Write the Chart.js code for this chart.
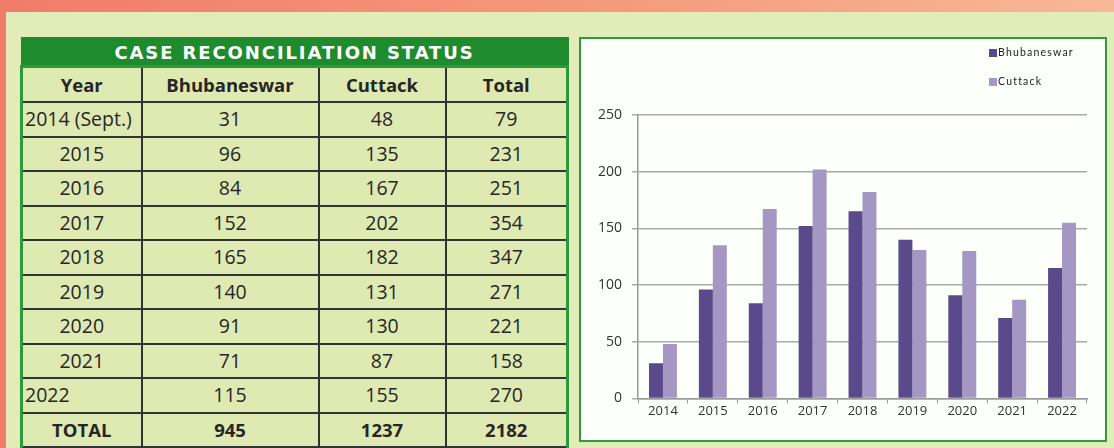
<!DOCTYPE html>
<html>
<head>
<meta charset="utf-8">
<script src="https://cdn.jsdelivr.net/npm/chart.js@4.4.1/dist/chart.umd.min.js"></script>
<style>
  html, body { margin: 0; padding: 0; }
  body {
    width: 1114px; height: 448px; overflow: hidden; position: relative;
    background: linear-gradient(90deg, #f07c6a 0%, #f49a7c 55%, #f7b898 100%);
    font-family: "Open Sans", sans-serif;
  }
  #panel {
    position: absolute; left: 6px; top: 12px; right: 0; bottom: 0;
    background: #e2ecb9;
  }
  #tbl {
    position: absolute; left: 20px; top: 37px; width: 546px;
    border-collapse: collapse; table-layout: fixed;
    background: #dfe9b2; color: #262626;
  }
  #tbl th.title {
    background: #1e8c2e; color: #fff; height: 26px; padding: 0;
    font-family: "DejaVu Sans", sans-serif; font-weight: bold; font-size: 18px;
    letter-spacing: 1.9px; border: 2px solid #1e8c2e;
  }
  #tbl td {
    border: 2px solid #333; text-align: center; padding: 0;
    height: 32.5px; font-size: 19.5px; line-height: 20px;
  }
  #tbl tr.head td { height: 33px; font-weight: bold; font-size: 18.5px; border-top: 3px solid #2a9a3a; }
  #tbl tr.tot td { font-weight: bold; font-size: 18.5px; }
  #tbl td.left { text-align: left; padding-left: 2px; }
  #tbl tr td:first-child { border-left: 3px solid #2a9a3a; }
  #tbl tr td:last-child { border-right: 3px solid #2a9a3a; }
  #box {
    position: absolute; left: 579px; top: 37px; width: 524px; height: 401px;
    border: 2px solid #2e9a3c; background: #fdfffa;
  }
  #legend {
    position: absolute; left: 408px; top: 7px;
    font-family: Lato, sans-serif; font-size: 10.5px; color: #222; letter-spacing: 1.2px;
  }
  #legend div { height: 13px; line-height: 13px; margin-bottom: 16px; white-space: nowrap; }
  #legend span { display: inline-block; width: 8px; height: 8px; margin-right: 1px; vertical-align: -1px; }
</style>
</head>
<body>
<div id="panel"></div>
<table id="tbl">
  <colgroup><col style="width:120px"><col style="width:177px"><col style="width:127px"><col style="width:122px"></colgroup>
  <tbody id="tbody"></tbody>
</table>
<div id="box">
  <canvas id="chart" width="524" height="401"></canvas>
  <div id="legend"></div>
</div>
<script>
const title = 'CASE RECONCILIATION STATUS';
const headers = ['Year', 'Bhubaneswar', 'Cuttack', 'Total'];
const rowLabels = ['2014 (Sept.)', '2015', '2016', '2017', '2018', '2019', '2020', '2021', '2022'];
const years = ['2014', '2015', '2016', '2017', '2018', '2019', '2020', '2021', '2022'];
const bhubaneswar = [31, 96, 84, 152, 165, 140, 91, 71, 115];
const cuttack = [48, 135, 167, 202, 182, 131, 130, 87, 155];
const totals = [79, 231, 251, 354, 347, 271, 221, 158, 270];
const grandTotals = ['TOTAL', 945, 1237, 2182];
const seriesNames = ['Bhubaneswar', 'Cuttack'];
const seriesColors = ['#5a4a8c', '#a497c4'];

// table
const tbody = document.getElementById('tbody');
let html = '<tr><th class="title" colspan="4">' + title + '</th></tr>';
html += '<tr class="head">' + headers.map(h => '<td>' + h + '</td>').join('') + '</tr>';
rowLabels.forEach((lab, i) => {
  const cls = (i === 0 || i === rowLabels.length - 1) ? ' class="left"' : '';
  html += '<tr><td' + cls + '>' + lab + '</td><td>' + bhubaneswar[i] + '</td><td>' +
    cuttack[i] + '</td><td>' + totals[i] + '</td></tr>';
});
html += '<tr class="tot">' + grandTotals.map(v => '<td>' + v + '</td>').join('') + '</tr>';
tbody.innerHTML = html;

// legend
document.getElementById('legend').innerHTML = seriesNames.map((n, i) =>
  '<div><span style="background:' + seriesColors[i] + '"></span>' + n + '</div>').join('');

const tickFont = { family: 'Open Sans', size: 14 };
new Chart(document.getElementById('chart'), {
  type: 'bar',
  data: {
    labels: years,
    datasets: [
      { label: seriesNames[0], data: bhubaneswar, backgroundColor: seriesColors[0] },
      { label: seriesNames[1], data: cuttack, backgroundColor: seriesColors[1] }
    ]
  },
  options: {
    responsive: false,
    animation: false,
    layout: { padding: { top: 76, right: 18, left: 7, bottom: 21 } },
    datasets: { bar: { categoryPercentage: 0.56, barPercentage: 1.0 } },
    plugins: { legend: { display: false }, tooltip: { enabled: false } },
    scales: {
      x: {
        grid: { drawOnChartArea: false, drawTicks: true, tickLength: 5, color: '#999', offset: true },
        border: { color: '#999', width: 1.5 },
        ticks: { color: '#333', font: { family: 'Open Sans', size: 13 }, padding: 0 }
      },
      y: {
        min: 0, max: 250,
        ticks: { stepSize: 50, color: '#333', font: tickFont, padding: 10 },
        grid: { color: '#aaa', lineWidth: 1.5, tickLength: 6 },
        border: { color: '#999', width: 1.5 }
      }
    }
  }
});
</script>
</body>
</html>
